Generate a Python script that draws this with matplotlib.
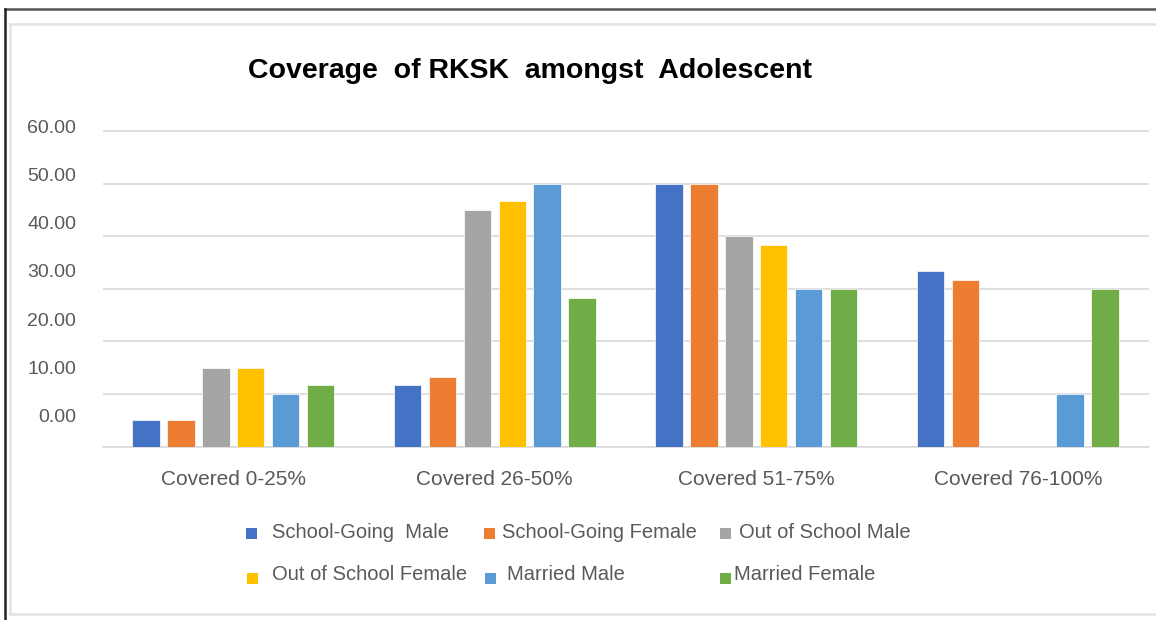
"""Coverage of RKSK amongst Adolescent - grouped bar chart."""
import matplotlib
matplotlib.use("Agg")
import matplotlib.pyplot as plt
from matplotlib.lines import Line2D
from matplotlib.patches import Rectangle
import numpy as np

categories = ["Covered 0-25%", "Covered 26-50%", "Covered 51-75%", "Covered 76-100%"]
series_names = [
    "School-Going  Male",
    "School-Going Female",
    "Out of School Male",
    "Out of School Female",
    "Married Male",
    "Married Female",
]
school_going_male = [5.00, 11.67, 50.00, 33.33]
school_going_female = [5.00, 13.33, 50.00, 31.67]
out_school_male = [15.00, 45.00, 40.00, 0.00]
out_school_female = [15.00, 46.67, 38.33, 0.00]
married_male = [10.00, 50.00, 30.00, 10.00]
married_female = [11.67, 28.33, 30.00, 30.00]
y_ticks = [0, 10, 20, 30, 40, 50, 60]

colors = ["#4472C4", "#ED7D31", "#A5A5A5", "#FFC000", "#5B9BD5", "#70AD47"]
TXT = "#595959"
GRID = "#D9D9D9"

W, H = 1156, 620
fig = plt.figure(figsize=(W / 100, H / 100), dpi=100)
plt.rcParams["font.family"] = ["Liberation Sans", "DejaVu Sans"]


def fx(px):
    return px / W


def fy(py):
    return 1 - py / H


# frame lines (screenshot border)
fig.add_artist(Line2D([fx(5), 1], [fy(9), fy(9)], color="#555555", lw=1.8))
fig.add_artist(Line2D([fx(5), fx(5)], [fy(9), 0], color="#222222", lw=1.8))
fig.add_artist(Line2D([fx(10), 1], [fy(24), fy(24)], color="#E3E3E3", lw=1.8))
fig.add_artist(Line2D([fx(10), fx(10)], [fy(24), fy(614)], color="#E3E3E3", lw=1.8))
fig.add_artist(Line2D([fx(10), 1], [fy(614), fy(614)], color="#E3E3E3", lw=1.8))

left, right, top, bottom = 102.5, 1148.6, 126.3, 446.7
ax = fig.add_axes([fx(left), fy(bottom), fx(right - left), (bottom - top) / H])

all_series = [school_going_male, school_going_female, out_school_male,
              out_school_female, married_male, married_female]
x = np.arange(len(categories))
width = 0.105
step = 0.1335
for i, (vals, c) in enumerate(zip(all_series, colors)):
    ax.bar(x + (i - 2.5) * step, vals, width, color=c, edgecolor="white",
           linewidth=0.5, zorder=3)

ax.set_xlim(-0.5, len(categories) - 0.5)
ax.set_ylim(0, 60)
ax.set_yticks(y_ticks)
ax.yaxis.set_major_formatter(plt.NullFormatter())
ax.grid(axis="y", color=GRID, lw=1.2, zorder=0)
ax.tick_params(axis="y", which="major", length=0)

# y labels sit a little off the grid lines in the original image
label_pos = np.linspace(5.9, 60.9, len(y_ticks))
ax.set_yticks(label_pos, minor=True)
ax.set_yticklabels([f"{v:.2f}" for v in y_ticks], minor=True)
ax.tick_params(axis="y", which="minor", length=0, pad=19, labelsize=14,
               labelcolor=TXT)

ax.set_xticks(x)
ax.set_xticklabels(categories, fontsize=15, color=TXT)
ax.tick_params(axis="x", length=0, pad=17)

for s in ["top", "right", "left"]:
    ax.spines[s].set_visible(False)
ax.spines["bottom"].set_color(GRID)
ax.spines["bottom"].set_linewidth(1.2)

fig.text(fx(530), fy(71), "Coverage  of RKSK  amongst  Adolescent",
         family=["Liberation Sans Narrow", "Liberation Sans", "DejaVu Sans"],
         fontweight="bold", fontsize=20.5, ha="center", va="center",
         color="black")

# legend, laid out by hand like the original
legend_slots = [
    (246, 533, 272, 533),
    (484, 533, 502, 533),
    (720, 533, 739, 533),
    (247, 578, 272, 574),
    (485, 578, 507, 574),
    (720, 578, 734, 574),
]
for name, c, (mx, my, tx, ty) in zip(series_names, colors, legend_slots):
    fig.add_artist(Rectangle((fx(mx), fy(my + 5.5)), 11 / W, 11 / H,
                             facecolor=c, edgecolor="none"))
    fig.text(fx(tx), fy(ty), name, fontsize=14.5, color=TXT,
             ha="left", va="center")

fig.savefig("out.png", dpi=100)
